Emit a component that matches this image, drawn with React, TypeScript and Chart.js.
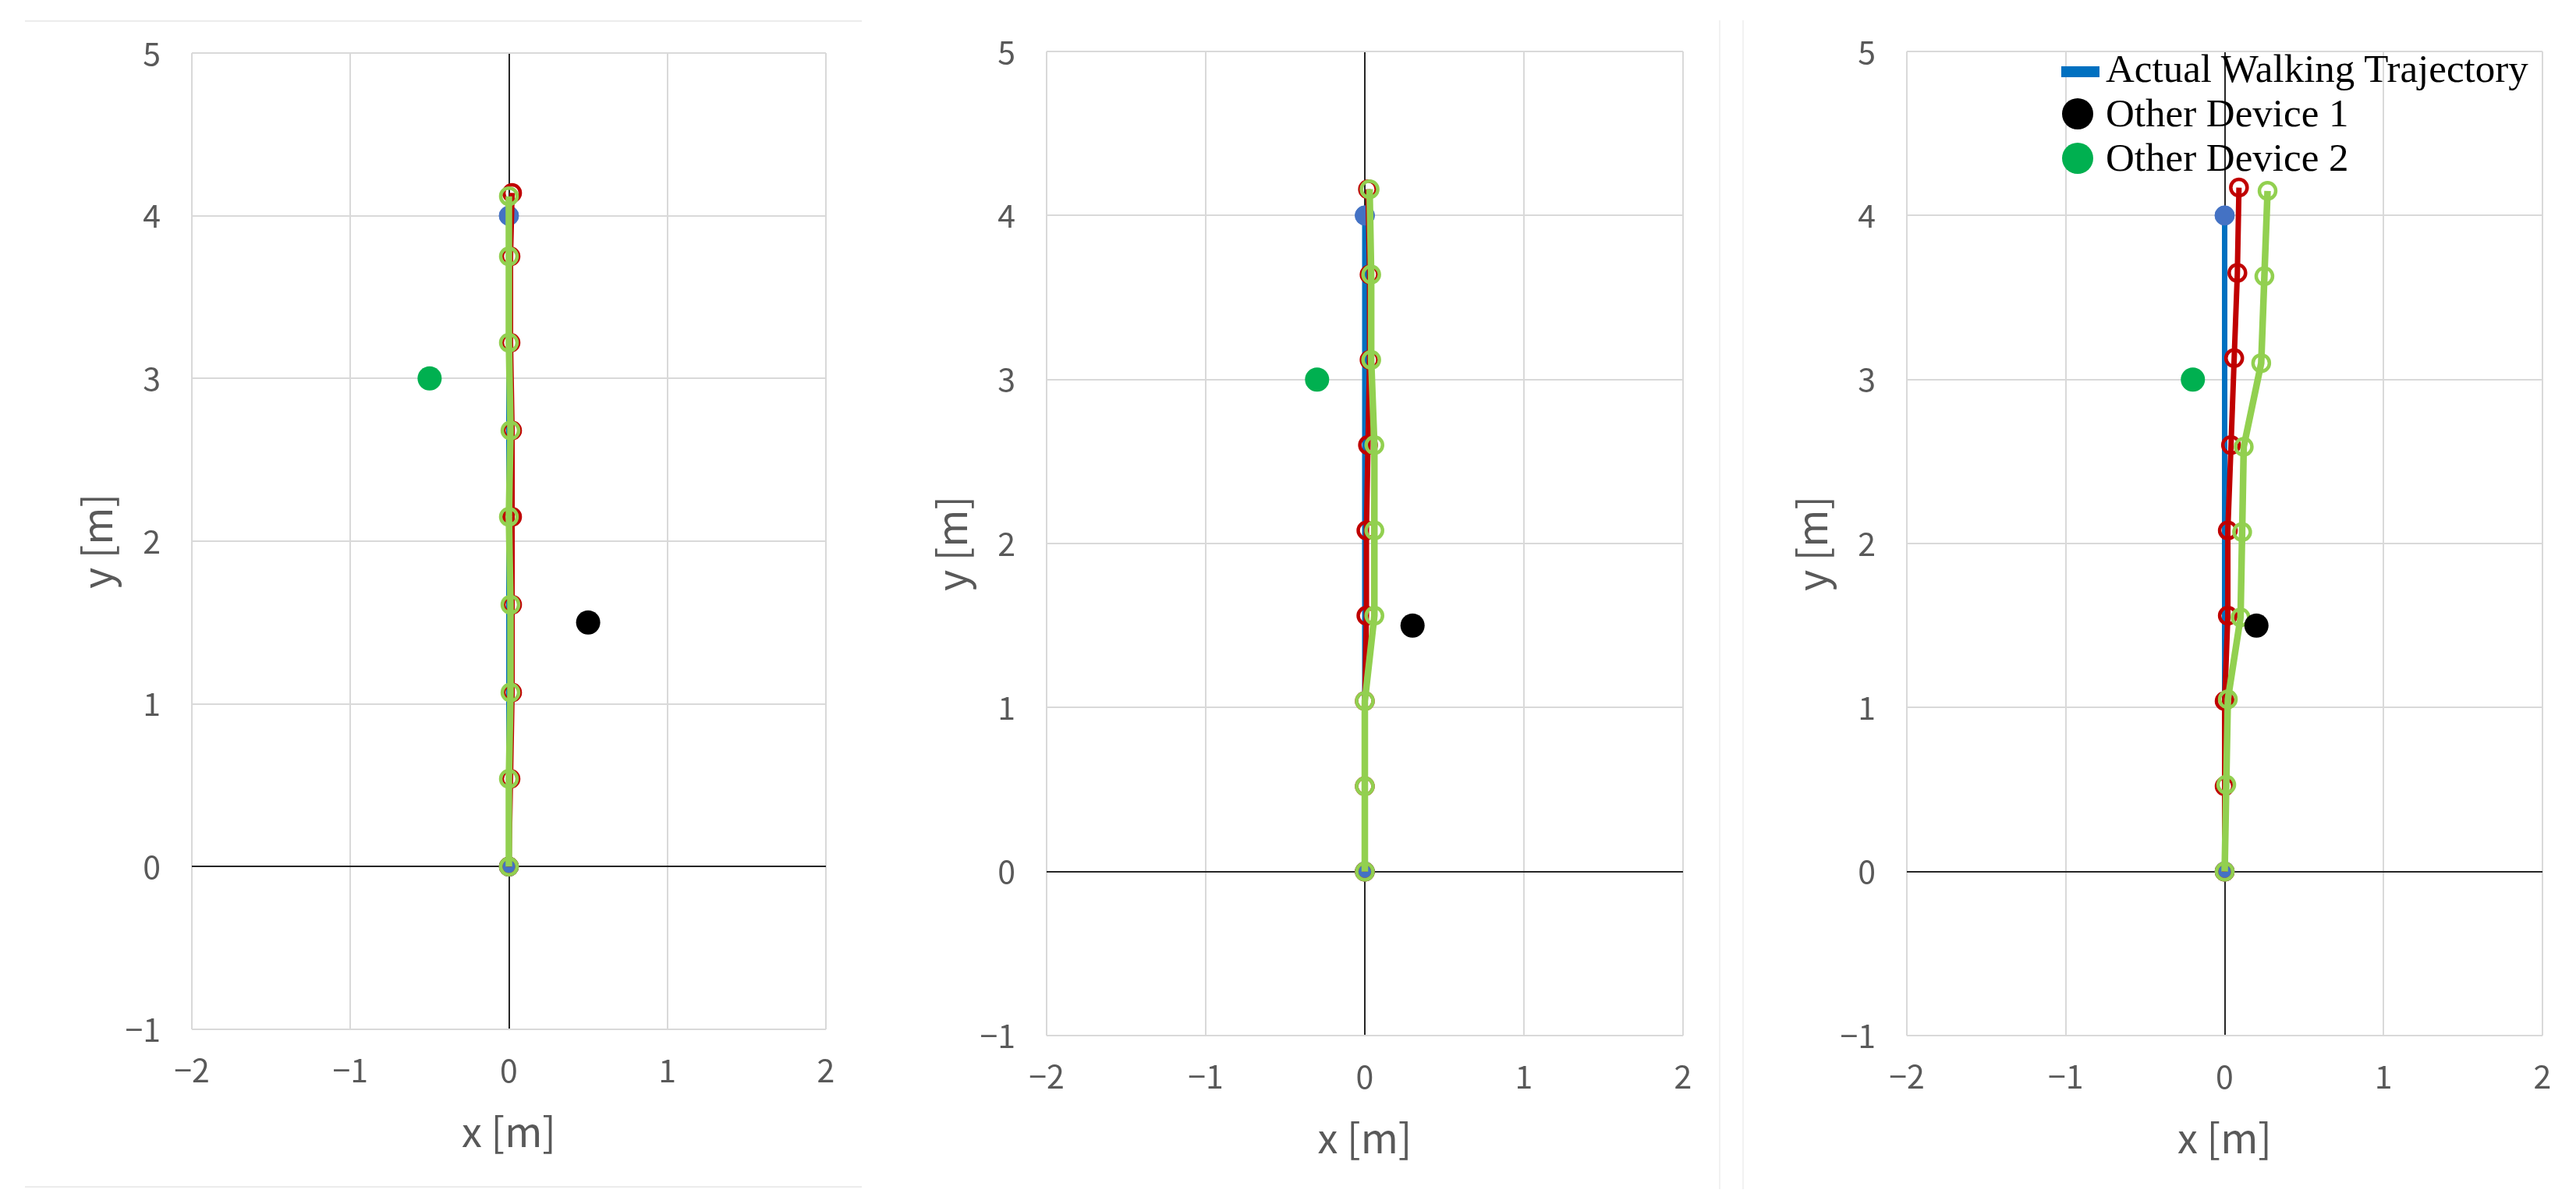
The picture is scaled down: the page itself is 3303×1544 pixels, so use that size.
import { useEffect, useRef } from 'react'
import Chart from 'chart.js/auto'

// legend names
const seriesNames = ['Actual Walking Trajectory', 'Other Device 1', 'Other Device 2']

// actual walking trajectory (same in every panel)
const actualX = [0, 0]
const actualY = [0, 4]

// panel 1
const p1RedX = [0, 0.01, 0.02, 0.02, 0.02, 0.02, 0.01, 0.01, 0.02]
const p1RedY = [0, 0.54, 1.07, 1.61, 2.15, 2.68, 3.22, 3.75, 4.14]
const p1GreenX = [0, 0, 0.01, 0.01, 0, 0.01, 0, 0, 0]
const p1GreenY = [0, 0.54, 1.07, 1.61, 2.15, 2.68, 3.22, 3.75, 4.12]
const p1Device1 = [0.5, 1.5]
const p1Device2 = [-0.5, 3]

// panel 2
const p2RedX = [0, 0, 0, 0.01, 0.01, 0.02, 0.03, 0.03, 0.02]
const p2RedY = [0, 0.52, 1.04, 1.56, 2.08, 2.6, 3.12, 3.64, 4.16]
const p2GreenX = [0, 0, 0, 0.06, 0.06, 0.06, 0.04, 0.04, 0.03]
const p2GreenY = [0, 0.52, 1.04, 1.56, 2.08, 2.6, 3.12, 3.64, 4.16]
const p2Device1 = [0.3, 1.5]
const p2Device2 = [-0.3, 3]

// panel 3
const p3RedX = [0, 0, 0, 0.02, 0.02, 0.04, 0.06, 0.08, 0.09]
const p3RedY = [0, 0.52, 1.04, 1.56, 2.08, 2.6, 3.13, 3.65, 4.17]
const p3GreenX = [0, 0.01, 0.02, 0.1, 0.11, 0.12, 0.23, 0.25, 0.27]
const p3GreenY = [0, 0.53, 1.05, 1.55, 2.07, 2.59, 3.1, 3.63, 4.15]
const p3Device1 = [0.2, 1.5]
const p3Device2 = [-0.2, 3]

// axes
const xMin = -2
const xMax = 2
const yMin = -1
const yMax = 5
const xTitle = 'x [m]'
const yTitle = 'y [m]'

const AXIS_W = 186
const AXIS_H = 180
const PAD_TOP = 70
const PAD_RIGHT = 50

const tickFont = { family: '"Noto Sans CJK JP", "Noto Sans", sans-serif', size: 41 }
const titleFont = { family: '"Noto Sans CJK JP", "Noto Sans", sans-serif', size: 52 }

const toPoints = (xs: number[], ys: number[]) => xs.map((x, i) => ({ x, y: ys[i] }))

const fmt = (v: any) => {
  const n = Number(v)
  return n < 0 ? '\u2212' + Math.abs(n) : String(n)
}

interface Box { left: number; right: number; top: number; bottom: number }

interface PanelProps {
  box: Box
  redX: number[]
  redY: number[]
  greenX: number[]
  greenY: number[]
  device1: number[]
  device2: number[]
}

function Panel({ box, redX, redY, greenX, greenY, device1, device2 }: PanelProps) {
  const chartRef = useRef<HTMLCanvasElement>(null)

  useEffect(() => {
    if (!chartRef.current) return
    const ctx = chartRef.current.getContext('2d')
    if (!ctx) return

    const gridColor = (c: any) => (c.tick && c.tick.value === 0 ? '#262626' : '#d9d9d9')

    const chart = new Chart(ctx, {
      type: 'scatter',
      data: {
        datasets: [
          {
            label: seriesNames[0],
            data: toPoints(actualX, actualY),
            showLine: true,
            borderColor: '#0070C0',
            borderWidth: 7,
            pointRadius: 12.5,
            pointBackgroundColor: '#4472C4',
            pointBorderColor: '#4472C4',
            pointBorderWidth: 1,
            order: 4
          },
          {
            label: 'red',
            data: toPoints(redX, redY),
            showLine: true,
            borderColor: '#C00000',
            borderWidth: 7,
            pointRadius: 10.5,
            pointBackgroundColor: 'rgba(0,0,0,0)',
            pointBorderColor: '#C00000',
            pointBorderWidth: 4.5,
            order: 3
          },
          {
            label: 'green',
            data: toPoints(greenX, greenY),
            showLine: true,
            borderColor: '#92D050',
            borderWidth: 8.5,
            pointRadius: 10.5,
            pointBackgroundColor: 'rgba(0,0,0,0)',
            pointBorderColor: '#92D050',
            pointBorderWidth: 4.5,
            order: 2
          },
          {
            label: seriesNames[1],
            data: [{ x: device1[0], y: device1[1] }],
            showLine: false,
            pointRadius: 15.5,
            pointBackgroundColor: '#000000',
            pointBorderColor: '#000000',
            pointBorderWidth: 0,
            order: 1
          },
          {
            label: seriesNames[2],
            data: [{ x: device2[0], y: device2[1] }],
            showLine: false,
            pointRadius: 15.5,
            pointBackgroundColor: '#00B050',
            pointBorderColor: '#00B050',
            pointBorderWidth: 0,
            order: 1
          }
        ]
      },
      options: {
        animation: false,
        responsive: true,
        maintainAspectRatio: false,
        layout: { padding: { top: PAD_TOP, right: PAD_RIGHT, bottom: 0, left: 0 } },
        plugins: {
          legend: { display: false },
          tooltip: { enabled: false }
        },
        scales: {
          x: {
            type: 'linear',
            min: xMin,
            max: xMax,
            ticks: { stepSize: 1, font: tickFont, color: '#595959', padding: 28, callback: fmt },
            grid: { color: gridColor, lineWidth: 2, drawTicks: false },
            border: { display: false },
            title: { display: true, text: xTitle, font: titleFont, color: '#595959', padding: { top: 0, bottom: 18 } },
            afterFit: (s: any) => { s.height = AXIS_H }
          },
          y: {
            type: 'linear',
            min: yMin,
            max: yMax,
            ticks: { stepSize: 1, font: tickFont, color: '#595959', padding: 40, callback: fmt },
            grid: { color: gridColor, lineWidth: 2, drawTicks: false },
            border: { display: false },
            title: { display: true, text: yTitle, font: titleFont, color: '#595959', padding: { top: 33, bottom: 0 } },
            afterFit: (s: any) => { s.width = AXIS_W }
          }
        }
      }
    } as any)

    return () => chart.destroy()
  }, [box, redX, redY, greenX, greenY, device1, device2])

  const style: React.CSSProperties = {
    position: 'absolute',
    left: box.left - AXIS_W,
    top: box.top - PAD_TOP,
    width: box.right - box.left + AXIS_W + PAD_RIGHT,
    height: box.bottom - box.top + PAD_TOP + AXIS_H
  }

  return (
    <div style={style}>
      <canvas ref={chartRef} />
    </div>
  )
}

const box1 = { left: 246, right: 1059, top: 68, bottom: 1320 }
const box2 = { left: 1342, right: 2158, top: 66, bottom: 1328 }
const box3 = { left: 2445, right: 3260, top: 66, bottom: 1328 }

function Legend() {
  const row: React.CSSProperties = { position: 'relative', height: 57, paddingLeft: 57, lineHeight: '57px' }
  const dot = (color: string): React.CSSProperties => ({
    position: 'absolute', left: 1, top: 9, width: 40, height: 40, borderRadius: '50%', background: color
  })
  return (
    <div style={{
      position: 'absolute', left: 2643, top: 60, fontFamily: '"Liberation Serif", "Times New Roman", serif',
      fontSize: 51, color: '#000', whiteSpace: 'nowrap'
    }}>
      <div style={row}>
        <span style={{ position: 'absolute', left: 0, top: 25, width: 49, height: 14, background: '#0070C0' }} />
        {seriesNames[0]}
      </div>
      <div style={row}>
        <span style={dot('#000000')} />
        {seriesNames[1]}
      </div>
      <div style={row}>
        <span style={dot('#00B050')} />
        {seriesNames[2]}
      </div>
    </div>
  )
}

export default function App() {
  const line = (s: React.CSSProperties): React.CSSProperties => ({ position: 'absolute', background: '#ececec', ...s })
  return (
    <div style={{ position: 'absolute', left: 0, top: 0, width: 3303, height: 1544, background: '#fff', overflow: 'hidden' }}>
      <div style={line({ left: 32, top: 26, width: 1073, height: 2 })} />
      <div style={line({ left: 32, top: 1521, width: 1073, height: 2 })} />
      <div style={line({ left: 2204, top: 26, width: 2, height: 1499, background: '#f2f2f2' })} />
      <div style={line({ left: 2234, top: 26, width: 2, height: 1499, background: '#f2f2f2' })} />
      <Panel box={box1} redX={p1RedX} redY={p1RedY} greenX={p1GreenX} greenY={p1GreenY} device1={p1Device1} device2={p1Device2} />
      <Panel box={box2} redX={p2RedX} redY={p2RedY} greenX={p2GreenX} greenY={p2GreenY} device1={p2Device1} device2={p2Device2} />
      <Panel box={box3} redX={p3RedX} redY={p3RedY} greenX={p3GreenX} greenY={p3GreenY} device1={p3Device1} device2={p3Device2} />
      <Legend />
    </div>
  )
}
